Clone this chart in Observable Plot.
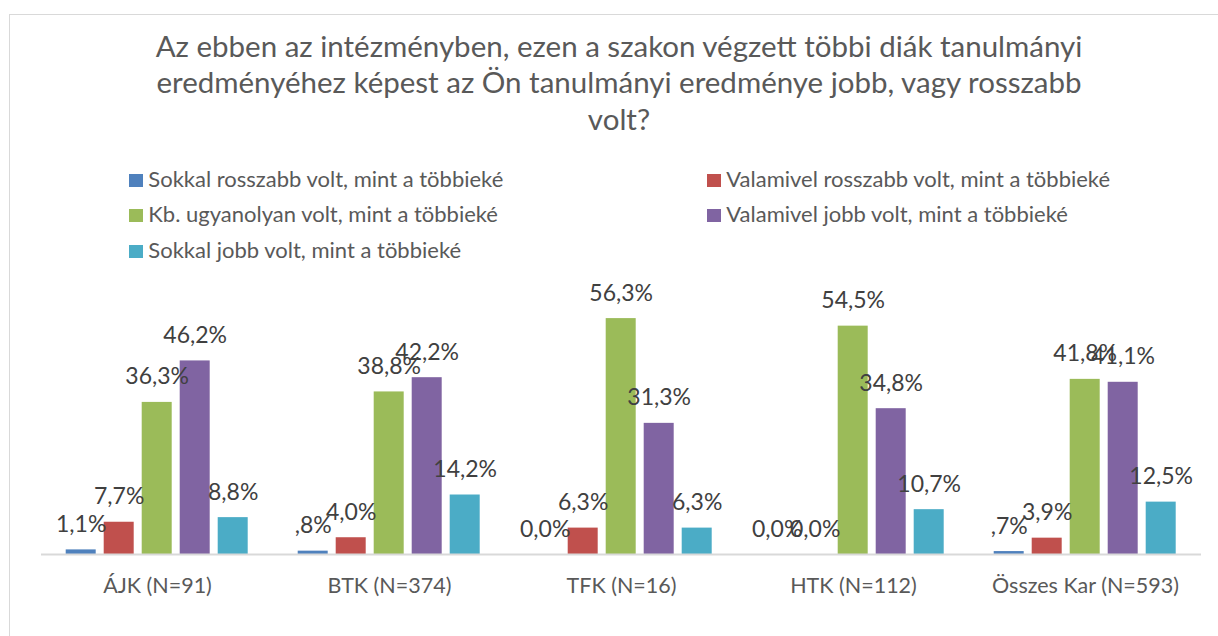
<!DOCTYPE html>
<html>
<head>
<meta charset="utf-8">
<script src="https://cdn.jsdelivr.net/npm/d3@7"></script>
<script src="https://cdn.jsdelivr.net/npm/@observablehq/plot@0.6"></script>
<style>
  body { margin: 0; background: #fff; width: 1218px; height: 636px; overflow: hidden; position: relative; font-family: Lato, sans-serif; }
  #frame { position: absolute; left: 9px; top: 14px; width: 1300px; height: 700px; border: 1px solid #d9d9d9; box-sizing: border-box; }
  #title { position: absolute; left: 0; top: 27.5px; width: 1238px; text-align: center; font-size: 29.5px; line-height: 36.7px; color: #595959; }
  .leg { position: absolute; font-size: 22px; line-height: 35.5px; color: #595959; white-space: nowrap; }
  .sw { display: inline-block; width: 14px; height: 13px; margin-right: 5px; }
  #chart { position: absolute; left: 0; top: 260px; }
</style>
</head>
<body>
<div id="frame"></div>
<div id="title">Az ebben az intézményben, ezen a szakon végzett többi diák tanulmányi<br>eredményéhez képest az Ön tanulmányi eredménye jobb, vagy rosszabb<br>volt?</div>
<div id="legend"></div>
<div id="chart"></div>
<script>
const groups = ["ÁJK (N=91)", "BTK (N=374)", "TFK (N=16)", "HTK (N=112)", "Összes Kar (N=593)"];
const series = [
  "Sokkal rosszabb volt, mint a többieké",
  "Valamivel rosszabb volt, mint a többieké",
  "Kb. ugyanolyan volt, mint a többieké",
  "Valamivel jobb volt, mint a többieké",
  "Sokkal jobb volt, mint a többieké"
];
const colors = ["#4f81bd", "#c0504d", "#9bbb59", "#8064a2", "#4bacc6"];

const sokkalRosszabb   = [1.1, 0.8, 0.0, 0.0, 0.7];
const valamivelRossz   = [7.7, 4.0, 6.3, 0.0, 3.9];
const ugyanolyan       = [36.3, 38.8, 56.3, 54.5, 41.8];
const valamivelJobb    = [46.2, 42.2, 31.3, 34.8, 41.1];
const sokkalJobb       = [8.8, 14.2, 6.3, 10.7, 12.5];

const seriesValues = [sokkalRosszabb, valamivelRossz, ugyanolyan, valamivelJobb, sokkalJobb];

const data = [];
groups.forEach((g, gi) => {
  series.forEach((s, si) => {
    data.push({group: g, series: s, value: seriesValues[si][gi]});
  });
});

const fmt = v => {
  let s = v.toFixed(1).replace(".", ",");
  if (v > 0 && v < 1) s = s.slice(1);
  return s + "%";
};

// Legend (two columns, row-major order)
const legend = document.getElementById("legend");
const colX = [129.3, 707.3];
series.forEach((s, i) => {
  const d = document.createElement("div");
  d.className = "leg";
  d.style.left = colX[i % 2] + "px";
  d.style.top = (160.75 + Math.floor(i / 2) * 35.5) + "px";
  d.innerHTML = `<span class="sw" style="background:${colors[i]}"></span>${s}`;
  legend.appendChild(d);
});

const chart = Plot.plot({
  width: 1218,
  height: 376,
  marginLeft: 39.3,
  marginRight: 16.3,
  marginTop: 42.6,
  marginBottom: 82,
  style: {fontFamily: "Lato, sans-serif", fontSize: "21.5px", color: "#595959", background: "transparent", overflow: "visible"},
  fx: {domain: groups, paddingInner: 0, paddingOuter: 0, label: null, tickSize: 0, tickPadding: 23.7},
  x: {domain: series, paddingInner: 0.202, paddingOuter: 0.593, axis: null},
  y: {domain: [0, 60], axis: null},
  color: {domain: series, range: colors},
  marks: [
    Plot.barY(data, {fx: "group", x: "series", y: "value", fill: "series"}),
    Plot.ruleY([0], {stroke: "#d9d9d9", strokeWidth: 2}),
    Plot.text(data, {fx: "group", x: "series", y: "value", text: d => fmt(d.value), lineAnchor: "bottom", dy: -18, fontSize: 23, fill: "#404040"})
  ]
});
document.getElementById("chart").appendChild(chart);
</script>
</body>
</html>
